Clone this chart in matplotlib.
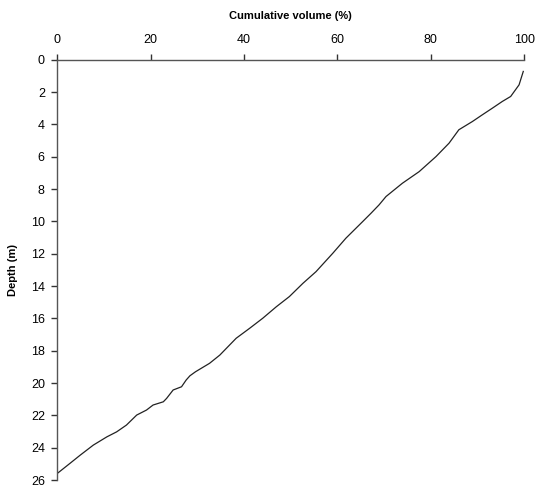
import matplotlib
matplotlib.use("Agg")
import matplotlib.pyplot as plt

plt.rcParams['font.family'] = ['Liberation Sans', 'DejaVu Sans']

# cumulative volume (%) vs depth (m)
volume = [99.8, 98.9, 97.1, 95.3, 93.2, 91.0, 88.9, 86.0, 83.9, 81.1, 77.5,
          73.9, 70.4, 68.9, 67.2, 65.4, 61.8, 59.0, 55.4, 52.6, 49.7, 46.9,
          44.0, 41.2, 38.3, 34.8, 32.6, 29.6, 28.4, 27.6, 26.6, 24.8,
          23.4, 22.7, 20.5, 19.1, 17.0, 14.8, 12.7, 10.6, 7.7, 4.9, 2.7, 0.0]
depth = [0.72, 1.55, 2.27, 2.58, 2.99, 3.41, 3.82, 4.33, 5.16, 5.99, 6.92,
         7.64, 8.46, 8.98, 9.49, 10.01, 11.04, 11.97, 13.11, 13.83, 14.65, 15.28,
         15.99, 16.61, 17.23, 18.27, 18.78, 19.30, 19.55, 19.81, 20.23, 20.43,
         20.95, 21.16, 21.36, 21.67, 21.98, 22.60, 23.02, 23.33, 23.84, 24.46, 24.97, 25.59]

x_ticks = [0, 20, 40, 60, 80, 100]
y_ticks = list(range(0, 27, 2))

fig = plt.figure(figsize=(5.36, 4.86), dpi=100)
ax = fig.add_axes([0.107, 0.0123, 0.871, 0.8647])

ax.plot(volume, depth, color='#222222', lw=0.9)

ax.set_xlim(0, 100)
ax.set_ylim(26, 0)
ax.set_xticks(x_ticks)
ax.set_yticks(y_ticks)

ax.xaxis.tick_top()
ax.xaxis.set_label_position('top')
ax.spines['right'].set_visible(False)
ax.spines['bottom'].set_visible(False)
for s in ['left', 'top']:
    ax.spines[s].set_color('#555555')
    ax.spines[s].set_linewidth(1.0)
ax.tick_params(axis='both', direction='out', length=4, width=1, color='#333333',
               labelsize=9, pad=5)
ax.tick_params(axis='x', pad=6)

ax.set_xlabel('Cumulative volume (%)', fontsize=8, fontweight='bold', labelpad=11)
ax.set_ylabel('Depth (m)', fontsize=8, fontweight='bold', labelpad=9)

fig.savefig('out.png', dpi=100)
